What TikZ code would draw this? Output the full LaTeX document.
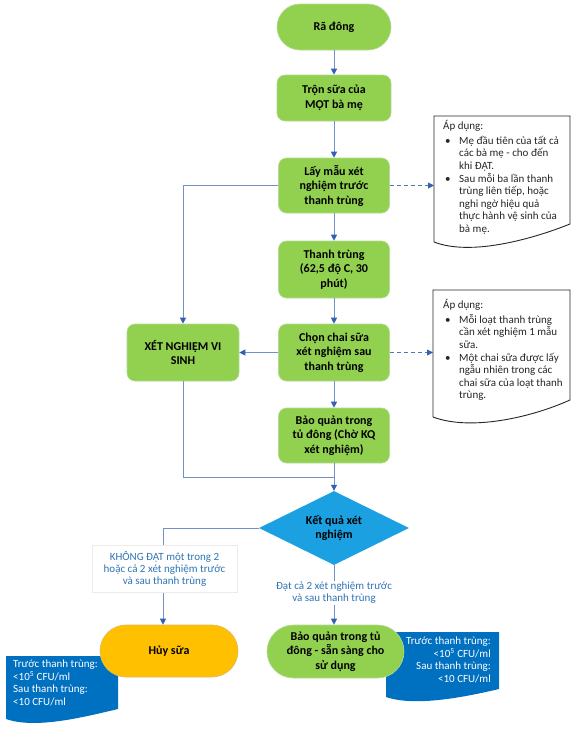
\documentclass[tikz,border=0pt]{standalone}
\usepackage{fontspec}
\setmainfont{Carlito}
\usetikzlibrary{arrows.meta,shapes.geometric}
\definecolor{gfill}{RGB}{146,208,80}
\definecolor{gline}{RGB}{180,218,150}
\definecolor{cline}{RGB}{112,146,200}
\definecolor{ctip}{RGB}{52,96,180}
\definecolor{diafill}{RGB}{27,161,226}
\definecolor{orng}{RGB}{255,192,0}
\definecolor{dblue}{RGB}{0,112,192}
\definecolor{lblue}{RGB}{46,117,182}
\newcommand\bul{\makebox[16pt][l]{\hspace{2pt}\textbullet}}
\newcommand\ind{\hspace*{16pt}}
\begin{document}
\begin{tikzpicture}[x=1pt,y=-1pt,
  box/.style={draw=gline, line width=0.6pt, fill=gfill, rounded corners=8pt, minimum width=111pt, minimum height=56pt, inner sep=1pt, align=center, font=\fontsize{12}{14.5}\selectfont\bfseries, text=black},
  pill/.style={box, rounded corners=23pt, minimum height=46pt},
  arr/.style={draw=cline, line width=1pt, -{Triangle[length=6pt,width=6pt,color=ctip]}},
  plain/.style={draw=cline, line width=1pt},
  darr/.style={draw=ctip!85, line width=0.8pt, dash pattern=on 4pt off 3pt, -{Triangle[length=6pt,width=6pt,color=ctip]}},
  docline/.style={draw=black!85, line width=0.9pt, fill=white},
  doctext/.style={anchor=north west, inner sep=0, align=left, font=\fontsize{11}{12.6}\selectfont, text=black!85},
  lbl/.style={fill=white, align=center, text=lblue, font=\fontsize{11}{12}\selectfont, inner sep=1pt},
  bluetext/.style={inner sep=0, text=white, font=\fontsize{11}{12.4}\selectfont}
]
\useasboundingbox (0,0) rectangle (575,734);
\fill[white] (0,0) rectangle (575,734);

% documents (notes)
\draw[docline] (434,116) -- (570,116) -- (570,224) .. controls (530,240) and (470,256) .. (434,242) -- cycle;
\node[inner sep=0, minimum width=136pt, minimum height=126pt, anchor=north west] (doc1) at (434,116) {};
\node[doctext] (t1) at (443,120) {Áp dụng:\\[2.4pt]
\bul Mẹ đầu tiên của tất cả\\
\ind các bà mẹ - cho đến\\
\ind khi ĐẠT.\\
\bul Sau mỗi ba lần thanh\\
\ind trùng liên tiếp, hoặc\\
\ind nghi ngờ hiệu quả\\
\ind thực hành vệ sinh của\\
\ind bà mẹ.};

\draw[docline] (433,290) -- (570,290) -- (570,400) .. controls (530,418) and (470,431) .. (433,417) -- cycle;
\node[inner sep=0, minimum width=137pt, minimum height=127pt, anchor=north west] (doc2) at (433,290) {};
\node[doctext] (t2) at (443,299) {Áp dụng:\\[2.4pt]
\bul Mỗi loạt thanh trùng\\
\ind cần xét nghiệm 1 mẫu\\
\ind sữa.\\
\bul Một chai sữa được lấy\\
\ind ngẫu nhiên trong các\\
\ind chai sữa của loạt thanh\\
\ind trùng.};

% blue documents
\fill[dblue] (6,656) -- (118,656) -- (118,709) .. controls (80,718) and (35,729) .. (6,719) -- cycle;
\fill[dblue] (386,632) -- (499,632) -- (499,689) .. controls (465,697) and (415,707) .. (386,697) -- cycle;

% main nodes
\node[pill, minimum width=114pt] (ra) at (334,27) {Rã đông};
\node[box, minimum width=114pt, minimum height=46pt] (tron) at (334,98) {Trộn sữa của\\MỘT bà mẹ};
\node[box, minimum height=55pt] (lay) at (334,185.5) {Lấy mẫu xét\\nghiệm trước\\thanh trùng};
\node[box, minimum height=57pt] (tt) at (334,269.5) {Thanh trùng\\(62,5 độ C, 30\\phút)};
\node[box, minimum height=57pt] (chon) at (334,352.5) {Chọn chai sữa\\xét nghiệm sau\\thanh trùng};
\node[box, minimum width=112pt, minimum height=57pt] (xn) at (183,352.5) {XÉT NGHIỆM VI\\SINH};
\node[box, minimum height=55pt] (bq1) at (334,435.5) {Bảo quản trong\\tủ đông (Chờ KQ\\xét nghiệm)};
\node[diamond, fill=diafill, minimum width=150pt, minimum height=74pt, aspect=2, inner sep=0, align=center, font=\fontsize{12}{14.5}\selectfont\bfseries, text=black] (kq) at (334,528) {Kết quả xét\\nghiệm};
\node[pill, fill=orng, draw={rgb,255:red,225;green,185;blue,90}, minimum width=138pt, minimum height=52pt, rounded corners=26pt] (huy) at (169,651) {Hủy sữa};
\node[pill, minimum width=137pt, minimum height=53pt, rounded corners=26.5pt] (bq2) at (335.5,651.5) {Bảo quản trong tủ\\đông - sẵn sàng cho\\sử dụng};

\coordinate (j) at (334,477);

% connectors
\draw[arr] (ra) -- (tron);
\draw[arr] (tron) -- (lay);
\draw[arr] (lay) -- (tt);
\draw[arr] (tt) -- (chon);
\draw[arr] (chon) -- (bq1);
\draw[arr] (chon) -- (xn);
\draw[arr] (lay.west) -| (xn.north);
\draw[plain] (xn.south) |- (j);
\draw[arr] (bq1) -- (kq);
\draw[arr] (kq.west) -| ([xshift=-6pt]huy.north);
\draw[arr] (kq.south) -- (kq.south |- bq2.north);
\draw[darr] (lay.east) -- (lay.east -| doc1.west);
\draw[darr] (chon.east) -- (chon.east -| doc2.west);

% labels
\node[lbl, draw=black!8, minimum width=145pt, minimum height=47pt] (l1) at (164.5,568.5) {KHÔNG ĐẠT một trong 2\\hoặc cả 2 xét nghiệm trước\\và sau thanh trùng};
\node[lbl] (l2) at (334,593) {Đạt cả 2 xét nghiệm trước\\và sau thanh trùng};

% blue doc texts
\node[bluetext, anchor=north west, align=left] (b1) at (13,660) {Trước thanh trùng:\\<10\textsuperscript{5} CFU/ml\\Sau thanh trùng:\\<10 CFU/ml};
\node[bluetext, anchor=north east, align=right] (b2) at (491,637) {Trước thanh trùng:\\<10\textsuperscript{5} CFU/ml\\Sau thanh trùng:\\<10 CFU/ml};
\end{tikzpicture}
\end{document}
